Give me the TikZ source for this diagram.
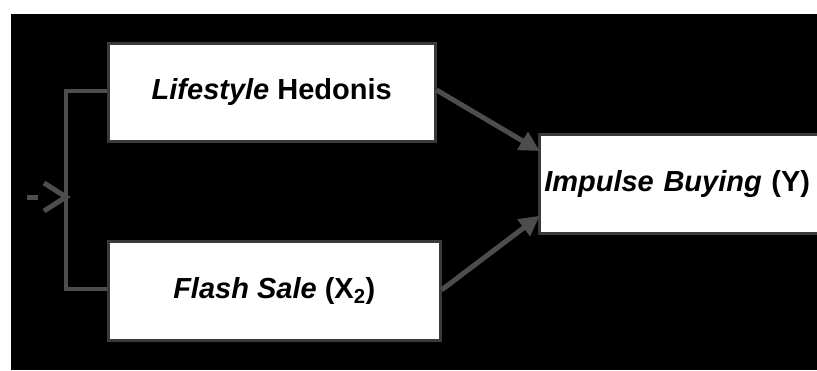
\documentclass[tikz,border=0pt]{standalone}
\usepackage{fontspec}
\setmainfont{Liberation Sans}
\usetikzlibrary{arrows.meta}
\definecolor{linegray}{HTML}{4D4D4D}
\definecolor{edgegray}{HTML}{3A3A3A}
\begin{document}
\begin{tikzpicture}[x=1pt,y=-1pt,
  box/.style={draw=edgegray,line width=2.5pt,fill=white,inner sep=0pt,anchor=north west,
    font=\fontsize{29}{33}\selectfont\bfseries},
  conn/.style={draw=linegray,line width=4pt},
  arr/.style={draw=linegray,line width=5pt,-{Triangle[length=20pt,width=20pt]},shorten >=-2pt}]
\useasboundingbox (0,0) rectangle (817,370);
\fill[white] (0,0) rectangle (817,370);
\fill[black] (11,14) rectangle (817,370);
\begin{scope}
\clip (0,0) rectangle (817,370);
\node[box,minimum width=327pt,minimum height=98pt] (life) at (107,42) {\textit{Lifestyle} Hedonis};
\node[box,minimum width=332pt,minimum height=99pt] (flash) at (107,240) {\textit{Flash Sale} (X\textsubscript{2})};
\node[box,minimum width=300pt,minimum height=99pt,align=left,text width=292pt] (imp) at (538,133) {\hspace*{1pt}\textit{Impulse Buying} (Y)};
\end{scope}
\coordinate (brk) at (66,197);
\draw[conn] (life.west|-0,91) -| (brk) |- (flash.west|-0,289);
\coordinate (dashA) at (27,197);
\coordinate (dashB) at (38,197);
\draw[linegray,line width=5pt] (dashA) -- (dashB);
\draw[linegray,line width=5pt,line join=miter] (44,183) -- (brk) -- (44,211);
\draw[arr] (life.east|-0,90) -- (imp.west|-0,150);
\draw[arr] (flash.east|-0,290) -- (imp.west|-0,217);
\end{tikzpicture}
\end{document}
